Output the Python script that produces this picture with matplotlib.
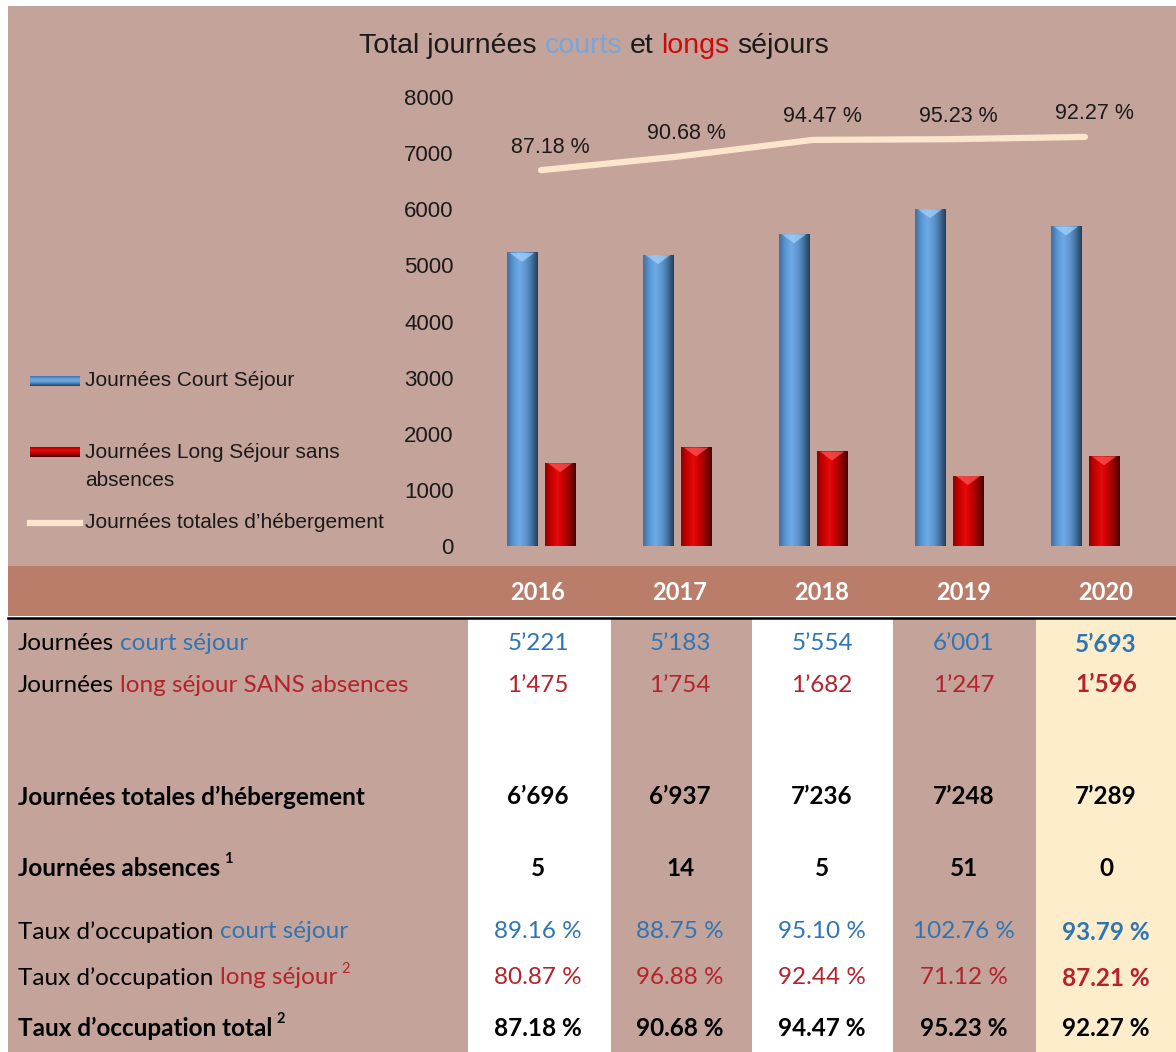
import matplotlib
matplotlib.use("Agg")
import matplotlib.pyplot as plt
import numpy as np
from matplotlib import font_manager
from matplotlib.colors import LinearSegmentedColormap
from matplotlib.lines import Line2D
from matplotlib.patches import Rectangle

LARGEUR, HAUTEUR = 1176, 1052

# Données du tableau
annees = ["2016", "2017", "2018", "2019", "2020"]
jours_court = [5221, 5183, 5554, 6001, 5693]
jours_long = [1475, 1754, 1682, 1247, 1596]
jours_totaux = [6696, 6937, 7236, 7248, 7289]
jours_absences = [5, 14, 5, 51, 0]
taux_court = [89.16, 88.75, 95.10, 102.76, 93.79]
taux_long = [80.87, 96.88, 92.44, 71.12, 87.21]
taux_total = [87.18, 90.68, 94.47, 95.23, 92.27]
graduations = [0, 1000, 2000, 3000, 4000, 5000, 6000, 7000, 8000]

legende = ["Journées Court Séjour", "Journées Long Séjour sans\nabsences",
           "Journées totales d’hébergement"]

FOND = "#c4a39a"
BANDEAU = "#b97d6a"
JAUNE = "#fdedcb"
BLEU_TXT = "#2e75b6"
ROUGE_TXT = "#b5222b"
CREME = "#fbe6cb"


def police_dispo(nom, repli):
    try:
        font_manager.findfont(font_manager.FontProperties(family=nom),
                              fallback_to_default=False)
        return nom
    except ValueError:
        return repli


ARIAL = "Liberation Sans"
CALIBRI = police_dispo("Lato", "DejaVu Sans")


def fx(px):
    return px / LARGEUR


def fy(py):
    return 1 - py / HAUTEUR


fig = plt.figure(figsize=(LARGEUR / 100, HAUTEUR / 100), dpi=100)
fig.patch.set_facecolor("white")
rendu = fig.canvas.get_renderer()


def rectangle(x0, y0, x1, y1, couleur):
    fig.add_artist(Rectangle((fx(x0), fy(y1)), (x1 - x0) / LARGEUR, (y1 - y0) / HAUTEUR,
                             transform=fig.transFigure, facecolor=couleur,
                             edgecolor="none", zorder=-5))


def largeur_texte(s, **kw):
    t = fig.text(0, 0, s, **kw)
    l = t.get_window_extent(rendu).width
    t.remove()
    return l


def texte_morceaux(x, y, morceaux, centre=False, **kw):
    """Écrit une ligne en plusieurs couleurs (coordonnées en pixels)."""
    esp = largeur_texte("n n", **kw) - largeur_texte("nn", **kw)
    textes = [fig.text(0, fy(y), s, color=c, va="center", **kw) for s, c in morceaux]
    largeurs = [t.get_window_extent(rendu).width for t in textes]
    total = sum(largeurs) + esp * (len(textes) - 1)
    pos = x - total / 2 if centre else x
    for t, l in zip(textes, largeurs):
        t.set_x(fx(pos))
        pos += l + esp
    return pos - esp


def exposant(xfin, y, s, couleur, gras=False):
    fig.text(fx(xfin + 4), fy(y - 9), s, color=couleur, fontsize=10.5,
             family=CALIBRI, fontweight="bold" if gras else "normal", va="center")


# fonds
rectangle(8, 6, LARGEUR, 566, FOND)
rectangle(8, 566, LARGEUR, 616, BANDEAU)
rectangle(8, 618, 468, HAUTEUR, FOND)
couleurs_col = ["white", FOND, "white", FOND, JAUNE]
bords = [468, 611, 752, 893, 1036, LARGEUR]
for i, c in enumerate(couleurs_col):
    rectangle(bords[i], 618, bords[i + 1], HAUTEUR, c)
fig.add_artist(Line2D([fx(8), 1], [fy(617.5)] * 2, transform=fig.transFigure,
                      color="black", lw=1.8, zorder=-4))

# titre
texte_morceaux(594, 46, [("Total journées", "#1a1a1a"), ("courts", "#78a6da"),
                         ("et", "#1a1a1a"), ("longs", "#cc0a0a"), ("séjours", "#1a1a1a")],
               centre=True, fontsize=20.5, family=ARIAL)

# graphique
ax = fig.add_axes([fx(473), fy(546), 680 / LARGEUR, (546 - 97) / HAUTEUR])
ax.set_facecolor("none")
x = np.arange(len(annees))
DECALAGE = 0.14
LARG_BARRE = 0.225

cmap_bleu = LinearSegmentedColormap.from_list(
    "bleu", ["#40709f", "#5b97d2", "#6eaae6", "#5f98d2", "#4673a0", "#213f5e"])
cmap_rouge = LinearSegmentedColormap.from_list(
    "rouge", ["#8c0000", "#cc0000", "#e60a0a", "#c80000", "#900000", "#4a0000"])


def degrade(barre, cmap, biseau):
    x0, w, h = barre.get_x(), barre.get_width(), barre.get_height()
    grad = np.linspace(0, 1, 64).reshape(1, -1)
    ax.imshow(grad, cmap=cmap, extent=(x0, x0 + w, 0, h), aspect="auto",
              zorder=2.1, interpolation="bicubic")
    haut = 9 * 8000 / (546 - 97)
    ax.fill([x0 + w * 0.1, x0 + w * 0.9, x0 + w / 2], [h, h, h - haut],
            color=biseau, alpha=0.7, lw=0, zorder=2.2)


barres_c = ax.bar(x - DECALAGE, jours_court, LARG_BARRE, color="#5b97d2", zorder=2)
barres_l = ax.bar(x + DECALAGE, jours_long, LARG_BARRE, color="#cc0000", zorder=2)
for b in barres_c:
    degrade(b, cmap_bleu, "#a8d4fb")
for b in barres_l:
    degrade(b, cmap_rouge, "#ff5a5a")

ax.plot(x, jours_totaux, color=CREME, lw=4.5, solid_capstyle="round", zorder=3)
for i, v in enumerate(jours_totaux):
    ax.annotate(f"{taux_total[i]:.2f} %", (x[i], v), xytext=(9, 23),
                textcoords="offset pixels", ha="center", va="center",
                fontsize=15.5, family=ARIAL, color="#1a1a1a")

ax.set_xlim(-0.5, 4.5)
ax.set_ylim(0, 8000)
ax.set_yticks(graduations)
ax.set_yticklabels([str(g) for g in graduations], family=ARIAL, fontsize=16,
                   color="#1a1a1a")
ax.set_xticks([])
ax.tick_params(axis="y", length=0, pad=14)
for s in ax.spines.values():
    s.set_visible(False)

# légende
for (ymil, cmap) in [(381, cmap_bleu), (452, cmap_rouge)]:
    axl = fig.add_axes([fx(30), fy(ymil + 5), 50 / LARGEUR, 10 / HAUTEUR])
    axl.imshow(np.linspace(0, 1, 32).reshape(-1, 1), cmap=cmap, aspect="auto",
               interpolation="bicubic")
    axl.axis("off")
fig.add_artist(Line2D([fx(30), fx(80)], [fy(523)] * 2, transform=fig.transFigure,
                      color=CREME, lw=4.5))
positions_leg = [[381], [452, 480], [523]]
for texte, ys in zip(legende, positions_leg):
    for ligne, y in zip(texte.split("\n"), ys):
        fig.text(fx(85), fy(y), ligne, family=ARIAL, fontsize=15, va="center",
                 color="#1a1a1a")

# tableau
centres = [538 + 142 * i for i in range(5)]
for c, a in zip(centres, annees):
    fig.text(fx(c), fy(593), a, ha="center", va="center", color="white",
             fontsize=17, fontweight="bold", family=CALIBRI)


def fmt_milliers(v):
    return f"{v:,}".replace(",", "’")


def fmt_taux(v):
    return f"{v:.2f} %"


TAILLE = 17.5
lignes = [
    (644, [("Journées", "black"), ("court séjour", BLEU_TXT)], None,
     [fmt_milliers(v) for v in jours_court], BLEU_TXT, False),
    (685, [("Journées", "black"), ("long séjour SANS absences", ROUGE_TXT)], None,
     [fmt_milliers(v) for v in jours_long], ROUGE_TXT, False),
    (797, [("Journées totales d’hébergement", "black")], None,
     [fmt_milliers(v) for v in jours_totaux], "black", True),
    (868, [("Journées absences", "black")], ("1", "black"),
     [str(v) for v in jours_absences], "black", True),
    (932, [("Taux d’occupation", "black"), ("court séjour", BLEU_TXT)], None,
     [fmt_taux(v) for v in taux_court], BLEU_TXT, False),
    (978, [("Taux d’occupation", "black"), ("long séjour", ROUGE_TXT)], ("2", ROUGE_TXT),
     [fmt_taux(v) for v in taux_long], ROUGE_TXT, False),
    (1028, [("Taux d’occupation total", "black")], ("2", "black"),
     [fmt_taux(v) for v in taux_total], "black", True),
]

for y, morceaux, expo, valeurs, couleur, gras in lignes:
    poids = "bold" if gras else "normal"
    fin = texte_morceaux(18, y, morceaux, fontsize=TAILLE, family=CALIBRI,
                         fontweight=poids)
    if expo:
        exposant(fin, y, expo[0], expo[1], gras)
    for i, (c, s) in enumerate(zip(centres, valeurs)):
        w = "bold" if (gras or i == 4) else "normal"
        fig.text(fx(c), fy(y), s, ha="center", va="center", color=couleur,
                 fontsize=TAILLE, fontweight=w, family=CALIBRI)

fig.savefig("out.png", dpi=100, facecolor=fig.get_facecolor())
